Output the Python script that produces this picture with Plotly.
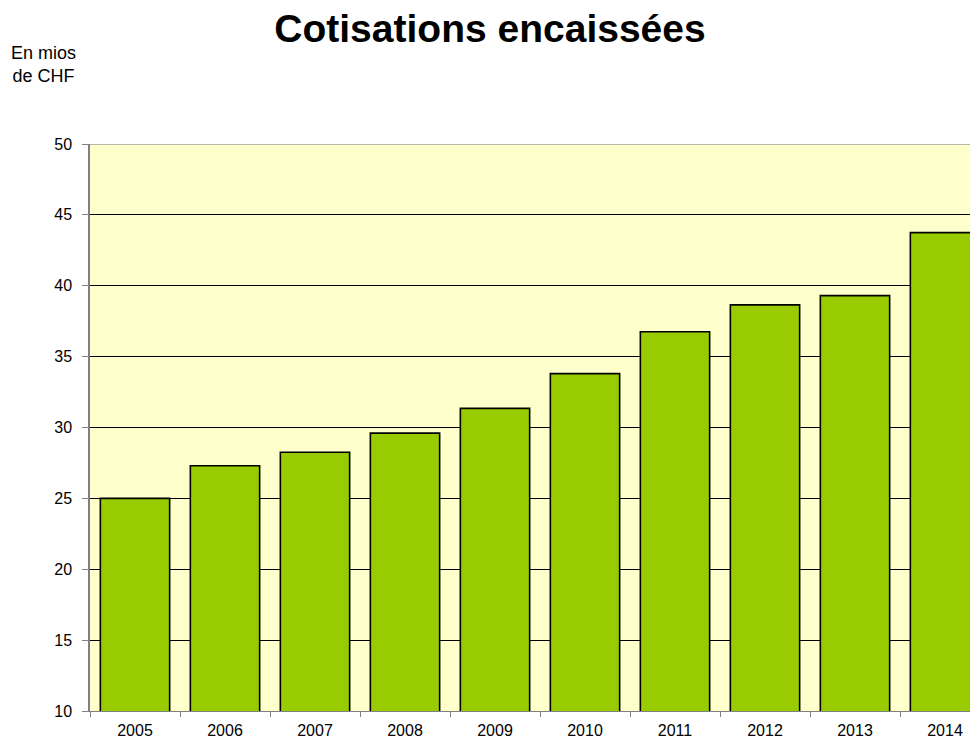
import plotly.graph_objects as go

years = ["2005", "2006", "2007", "2008", "2009", "2010", "2011", "2012", "2013", "2014"]
cotisations = [25.0, 27.3, 28.25, 29.6, 31.35, 33.8, 36.75, 38.65, 39.3, 43.75]
y_ticks = [10, 15, 20, 25, 30, 35, 40, 45, 50]

FONT = "Liberation Sans, Arial, sans-serif"

# the page body adds an 8px margin, so the figure is drawn 8px smaller/offset
OFF = 8
W, H = 978 - OFF, 738 - OFF
L, R, T, B = 90 - OFF, 0, 144 - OFF, 27
plot_w = W - L - R
plot_h = H - T - B
cats_visible = plot_w / 90.0

fig = go.Figure()
fig.add_trace(go.Bar(
    x=years, y=cotisations,
    marker=dict(color="#99CC00", line=dict(color="#000000", width=1.6)),
    hoverinfo="x+y",
))

fig.update_layout(
    width=W, height=H,
    margin=dict(l=L, r=R, t=T, b=B),
    paper_bgcolor="white",
    plot_bgcolor="#FFFFCC",
    showlegend=False,
    bargap=0.23,
    font=dict(family=FONT, color="#000000"),
    title=dict(
        text="<b>Cotisations encaissées</b>",
        font=dict(family=FONT, size=39, color="#000000"),
        x=(490 - OFF) / W, xanchor="center", xref="container",
        y=1 - (28 - OFF) / H, yanchor="middle", yref="container",
    ),
    xaxis=dict(
        type="category",
        range=[-0.5, -0.5 + cats_visible],
        tickson="boundaries",
        ticks="outside", ticklen=5, tickcolor="#808080",
        showline=True, linecolor="#808080", linewidth=1,
        showgrid=False,
        tickfont=dict(family=FONT, size=16, color="#000000"),
        ticklabelstandoff=5,
        fixedrange=True,
    ),
    yaxis=dict(
        range=[10, 50],
        tickvals=y_ticks,
        ticks="outside", ticklen=6, tickcolor="#808080",
        showline=True, linecolor="#808080", linewidth=1.5,
        showgrid=True, gridcolor="#000000", gridwidth=1,
        zeroline=False,
        tickfont=dict(family=FONT, size=16, color="#000000"),
        ticklabelstandoff=7,
    ),
    annotations=[dict(
        text="En mios<br>de CHF",
        xref="paper", yref="paper",
        x=(43 - OFF - L) / plot_w, y=(H - B - (65 - OFF)) / plot_h,
        xanchor="center", yanchor="middle",
        showarrow=False, align="center",
        font=dict(family=FONT, size=18, color="#000000"),
    )],
    shapes=[dict(
        type="line", xref="paper", yref="y",
        x0=0, x1=1, y0=y_ticks[-1], y1=y_ticks[-1],
        line=dict(color="#A0A0A0", width=1.5), layer="above",
    )],
)

fig.write_html("out.html")
